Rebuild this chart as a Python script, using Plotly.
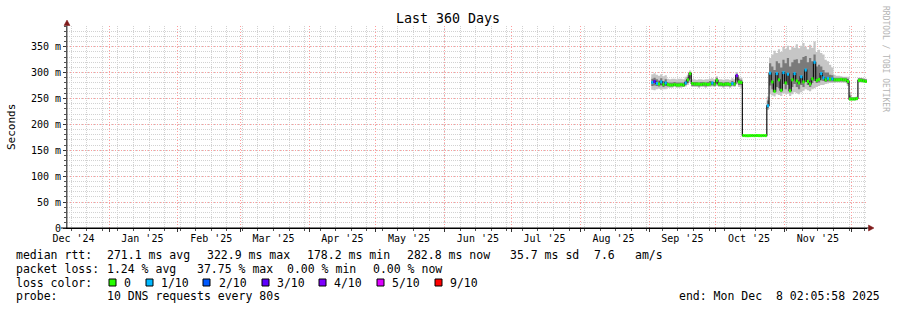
import plotly.graph_objects as go
import pandas as pd

# ---------------- data (daily, from 2025-09-02 to 2025-12-08) ----------------
start_day = "2025-09-02"

median_ms = [
    # Sep 2 - Sep 30
    281, 283, 279, 278, 282, 277, 280, 277, 276, 276, 277, 276, 276, 277, 276,
    280, 286, 298, 279, 278, 278, 278, 277, 278, 278, 277, 278, 280, 278,
    # Oct 1 - Oct 31
    285, 278, 278, 277, 278, 278, 277, 279, 278, 294, 282, 281,
    178.5, 178.3, 178.2, 178.4, 178.5, 178.3, 178.6, 178.4, 178.3, 178.5, 178.4,
    236, 299, 282, 264, 298, 286, 266, 300,
    # Nov 1 - Nov 30
    280, 297, 265, 286, 298, 284, 280, 292, 282, 305, 283, 278, 288, 320,
    285, 287, 298, 290, 286, 289, 287, 288,
    286, 286, 286, 287, 286, 286, 283, 249,
    # Dec 1 - Dec 8
    249, 249, 250, 285, 285, 284, 283, 282.8,
]

loss_tenths = [
    # Sep
    1, 3, 1, 0, 1, 0, 1, 0, 0, 0, 0, 0, 0, 0, 0, 1, 0, 0, 0, 0, 0, 0, 0, 0, 0, 0, 0, 1, 0,
    # Oct
    0, 0, 0, 0, 0, 0, 0, 1, 0, 4, 0, 0,
    0, 0, 0, 0, 0, 0, 0, 0, 0, 0, 0,
    1, 1, 0, 0, 1, 0, 0, 1,
    # Nov
    0, 1, 0, 0, 1, 0, 0, 1, 0, 1, 0, 0, 0, 1,
    0, 0, 1, 1, 0, 1, 0, 1,
    0, 0, 0, 0, 0, 0, 0, 0,
    # Dec
    0, 0, 0, 0, 0, 0, 0, 0,
]

smoke_min = [
    267, 266, 268, 269, 267, 268, 268,
    271, 271, 271, 272, 271, 271, 271, 272,
    273, 276, 282,
    272, 272, 272, 271, 272, 272, 271, 272, 272, 273, 272,
    274, 272, 272, 271, 272, 272, 271, 273, 272, 278, 272, 271,
    177, 177, 176.8, 177, 177, 177, 177, 177, 177, 177, 177,
    228, 258, 256, 254, 258, 257, 255, 260,
    258, 259, 255, 258, 262, 260, 258, 262, 265, 268, 266, 264, 268, 270,
    272, 274, 276, 276, 278, 279, 280, 280,
    280, 281, 281, 281, 281, 280, 274, 246,
    246, 246, 246, 281, 281, 281, 280, 280,
]

smoke_max = [
    297, 299, 296, 294, 297, 293, 295,
    288, 287, 288, 288, 287, 288, 288, 287,
    292, 296, 304,
    287, 287, 286, 287, 287, 286, 287, 287, 288, 289, 287,
    293, 287, 287, 286, 287, 287, 286, 289, 287, 301, 292, 290,
    180, 180, 180, 180, 180, 180, 180, 180, 180, 180, 180,
    254, 328, 335, 342, 338, 345, 340, 350,
    346, 352, 344, 350, 348, 355, 347, 352, 357, 350, 345, 354, 348, 360,
    340, 344, 338, 335, 325, 322, 315, 310,
    296, 294, 294, 293, 292, 292, 292, 262,
    253, 253, 254, 290, 290, 289, 288, 288,
]

smoke_lo = [
    274, 275, 274, 273, 275, 272, 274,
    273, 273, 273, 274, 273, 273, 273, 273,
    276, 280, 288,
    274, 274, 274, 273, 274, 274, 273, 274, 275, 275, 274,
    279, 274, 274, 273, 274, 274, 273, 275, 274, 285, 276, 276,
    177.8, 177.8, 177.8, 177.8, 177.8, 177.8, 177.8, 177.8, 177.8, 177.8, 177.8,
    231, 275, 268, 262, 272, 270, 262, 278,
    268, 276, 262, 272, 278, 272, 268, 276, 272, 282, 276, 272, 280, 284,
    280, 281, 285, 284, 282, 283, 283, 283,
    283, 283, 283, 283, 283, 283, 278, 247,
    247, 247, 247, 282, 282, 282, 281, 281,
]

smoke_hi = [
    288, 290, 287, 285, 289, 284, 287,
    281, 281, 281, 282, 281, 281, 281, 281,
    285, 292, 301,
    282, 282, 282, 281, 282, 282, 281, 282, 284, 283, 282,
    290, 282, 282, 281, 282, 282, 281, 284, 282, 298, 288, 286,
    179.2, 179.2, 179.2, 179.2, 179.2, 179.2, 179.2, 179.2, 179.2, 179.2, 179.2,
    246, 318, 312, 305, 322, 318, 310, 325,
    318, 328, 312, 320, 325, 326, 318, 325, 330, 332, 320, 328, 322, 335,
    312, 315, 312, 305, 300, 300, 296, 295,
    290, 290, 290, 290, 290, 290, 288, 256,
    252, 252, 253, 289, 289, 288, 287, 287,
]

loss_colors = {0: "#26ff00", 1: "#00b8ff", 2: "#0059ff", 3: "#5e00ff",
               4: "#7e00ff", 5: "#dd00ff", 9: "#ff0000"}
legend_labels = ["0", "1/10", "2/10", "3/10", "4/10", "5/10", "9/10"]
legend_keys = [0, 1, 2, 3, 4, 5, 9]

x_start = "2024-12-13 02:05:58"
x_end = "2025-12-08 02:05:58"
month_starts = ["2025-01-01", "2025-02-01", "2025-03-01", "2025-04-01", "2025-05-01",
                "2025-06-01", "2025-07-01", "2025-08-01", "2025-09-01", "2025-10-01",
                "2025-11-01", "2025-12-01"]
label_dates = ["2024-12-16", "2025-01-16", "2025-02-16", "2025-03-16", "2025-04-16",
               "2025-05-16", "2025-06-16", "2025-07-16", "2025-08-16", "2025-09-16",
               "2025-10-16", "2025-11-16"]
label_texts = ["Dec '24", "Jan '25", "Feb '25", "Mar '25", "Apr '25", "May '25",
               "Jun '25", "Jul '25", "Aug '25", "Sep '25", "Oct '25", "Nov '25"]
y_ticks = [0, 50, 100, 150, 200, 250, 300, 350]
y_ticktext = ["0", "50 m", "100 m", "150 m", "200 m", "250 m", "300 m", "350 m"]

days = list(pd.date_range(start_day, periods=len(median_ms), freq="D"))

# ---------------- geometry helpers ----------------
W, H = 897, 310
L, R, T, B = 67, 30, 26, 82
PW, PH = W - L - R, H - T - B


def px(xp):
    return (xp - L) / PW


def py(yp):
    return (T + PH - yp) / PH


MONO = "DejaVu Sans Mono"

fig = go.Figure()

# smoke (outer)
fig.add_trace(go.Scatter(x=days, y=smoke_min, mode="lines",
                         line=dict(width=0, shape="hv"), showlegend=False, hoverinfo="skip"))
fig.add_trace(go.Scatter(x=days, y=smoke_max, mode="lines", fill="tonexty",
                         fillcolor="#c6c6c6", line=dict(width=0, shape="hv"),
                         showlegend=False, hoverinfo="skip"))
# smoke (inner)
fig.add_trace(go.Scatter(x=days, y=smoke_lo, mode="lines",
                         line=dict(width=0, shape="hv"), showlegend=False, hoverinfo="skip"))
fig.add_trace(go.Scatter(x=days, y=smoke_hi, mode="lines", fill="tonexty",
                         fillcolor="#7a7a7a", line=dict(width=0, shape="hv"),
                         showlegend=False, hoverinfo="skip"))
# median connector
fig.add_trace(go.Scatter(x=days, y=median_ms, mode="lines",
                         line=dict(width=1.2, color="#111111", shape="hv"),
                         showlegend=False, hoverinfo="skip"))
# median coloured by loss: one step segment per day, grouped by loss bucket
for key in legend_keys:
    xs, ys = [], []
    for i in range(len(median_ms) - 1):
        if loss_tenths[i] == key:
            xs += [days[i], days[i + 1], None]
            ys += [median_ms[i], median_ms[i], None]
    if xs:
        fig.add_trace(go.Scatter(x=xs, y=ys, mode="lines",
                                 line=dict(width=3, color=loss_colors[key]),
                                 connectgaps=False, showlegend=False, hoverinfo="skip"))
# carrier for label axis
fig.add_trace(go.Scatter(x=[label_dates[0]], y=[None], xaxis="x2", mode="markers",
                         showlegend=False, hoverinfo="skip"))

annotations = []


def text(xp_, yp_, s, size=11.5, color="black", xanchor="left", angle=0):
    annotations.append(dict(x=px(xp_), y=py(yp_), xref="paper", yref="paper", text=s,
                            showarrow=False, xanchor=xanchor, yanchor="middle",
                            textangle=angle, borderpad=0,
                            font=dict(family=MONO, size=size, color=color)))


text(448, 19, "Last 360 Days", size=13.3, xanchor="center")
text(11, 127, "Seconds", size=11, xanchor="center", angle=-90)
text(886, 59, "RRDTOOL / TOBI OETIKER", size=8, color="#b4b4b4", xanchor="center", angle=90)

# line 1
text(15, 255, "median rtt:")
text(106, 255, "271.1 ms avg")
text(206, 255, "322.9 ms max")
text(306, 255, "178.2 ms min")
text(406, 255, "282.8 ms now")
text(509, 255, "35.7 ms sd")
text(593, 255, "7.6")
text(634, 255, "am/s")
# line 2
text(15, 269, "packet loss:")
text(106, 269, "1.24 % avg")
text(196, 269, "37.75 % max")
text(286, 269, "0.00 % min")
text(372, 269, "0.00 % now")
# line 3
text(15, 283, "loss color:")
box_left = [109, 146, 203, 262, 319, 377, 435]
label_left = [123, 160, 218, 276, 333, 391, 449]
shapes = []
for k, lab, bl, ll in zip(legend_keys, legend_labels, box_left, label_left):
    shapes.append(dict(type="rect", xref="paper", yref="paper",
                       x0=px(bl), x1=px(bl + 7), y0=py(286), y1=py(279),
                       fillcolor=loss_colors[k], line=dict(color="black", width=1)))
    text(ll, 283, lab)
# line 4
text(15, 296, "probe:")
text(106, 296, "10 DNS requests every 80s")
text(881, 296, "end: Mon Dec  8 02:05:58 2025", xanchor="right")

# axis extensions and arrows
arrow_c = "#7f1a1a"
shapes.append(dict(type="line", xref="paper", yref="paper", x0=px(67), x1=px(67),
                   y0=py(228), y1=py(24), line=dict(color="#555555", width=1)))
shapes.append(dict(type="line", xref="paper", yref="paper", x0=px(61), x1=px(869),
                   y0=py(228), y1=py(228), line=dict(color="black", width=1)))
shapes.append(dict(type="path", xref="paper", yref="paper",
                   path=f"M {px(67)},{py(20)} L {px(64)},{py(25.5)} L {px(70)},{py(25.5)} Z",
                   fillcolor=arrow_c, line=dict(color=arrow_c, width=0.5)))
shapes.append(dict(type="path", xref="paper", yref="paper",
                   path=f"M {px(874)},{py(228)} L {px(868.5)},{py(225)} L {px(868.5)},{py(231)} Z",
                   fillcolor=arrow_c, line=dict(color=arrow_c, width=0.5)))

red_grid = "#ff9c9c"
gray_grid = "#d2d2d2"

fig.update_layout(
    width=W, height=H,
    margin=dict(l=L, r=R, t=T, b=B, pad=0),
    paper_bgcolor="white", plot_bgcolor="white",
    showlegend=False,
    annotations=annotations, shapes=shapes,
    xaxis=dict(type="date", range=[x_start, x_end], tickmode="array", tickvals=month_starts,
               showticklabels=False, showgrid=True, gridcolor=red_grid, gridwidth=1,
               griddash="1px,2px", ticks="outside", ticklen=3, tickcolor="#333333",
               showline=True, linecolor="black", linewidth=1, zeroline=False,
               minor=dict(tickmode="linear", tick0="2024-12-15", dtick=7 * 86400000,
                          showgrid=True, gridcolor=gray_grid, griddash="1px,1px",
                          ticks="outside", ticklen=2, tickcolor="#555555")),
    xaxis2=dict(type="date", range=[x_start, x_end], overlaying="x", anchor="y", side="bottom",
                tickmode="array", tickvals=label_dates, ticktext=label_texts,
                showgrid=False, showline=False, zeroline=False, ticks="",
                ticklabelstandoff=3,
                tickfont=dict(family=MONO, size=10, color="black")),
    yaxis=dict(range=[0, 390], tickmode="array", tickvals=y_ticks, ticktext=y_ticktext,
               showgrid=True, gridcolor=red_grid, gridwidth=1, griddash="1px,2px",
               ticks="outside", ticklen=3, tickcolor="#333333",
               showline=True, linecolor="#555555", linewidth=1, zeroline=False,
               tickfont=dict(family=MONO, size=10, color="black"),
               minor=dict(tickmode="linear", tick0=0, dtick=10, showgrid=True,
                          gridcolor=gray_grid, griddash="1px,1px",
                          ticks="outside", ticklen=2, tickcolor="#555555")),
)

fig.write_html("out.html")
